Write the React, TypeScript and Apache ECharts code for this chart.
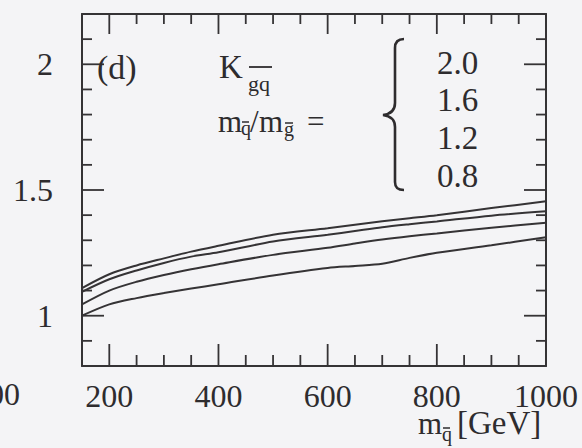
import React, { useEffect, useRef } from "react";
import * as echarts from "echarts";

// squark mass grid [GeV]
const massGeV = [150, 200, 250, 300, 350, 400, 500, 600, 650, 700, 750, 800, 900, 1000];

// K factor for each mass ratio m_q~/m_g~
const kRatio20 = [1.11, 1.165, 1.2, 1.228, 1.255, 1.278, 1.322, 1.348, 1.362, 1.376, 1.388, 1.4, 1.428, 1.455];
const kRatio16 = [1.095, 1.145, 1.18, 1.21, 1.235, 1.252, 1.295, 1.322, 1.337, 1.352, 1.364, 1.375, 1.398, 1.415];
const kRatio12 = [1.045, 1.1, 1.135, 1.162, 1.185, 1.205, 1.242, 1.27, 1.287, 1.303, 1.316, 1.327, 1.35, 1.37];
const kRatio08 = [1.0, 1.045, 1.07, 1.09, 1.108, 1.125, 1.16, 1.19, 1.198, 1.207, 1.23, 1.25, 1.28, 1.312];

const ratioLabels = ["2.0", "1.6", "1.2", "0.8"];

// tick marks: labelled (long) and unlabelled (short)
const xMajor = [200, 400, 600, 800, 1000];
const xMinor = [250, 300, 350, 450, 500, 550, 650, 700, 750, 850, 900, 950];
const yMajor = [1, 1.5, 2];
const yMinor = [0.9, 1.1, 1.2, 1.3, 1.4, 1.6, 1.7, 1.8, 1.9, 2.1];

const X_MIN = 150;
const X_MAX = 1000;
const Y_MIN = 0.8;
const Y_MAX = 2.2;

const INK = "#353335";
const TEXT = "#2e2c2e";
const FAMILY = '"Liberation Serif", "Times New Roman", serif';
const f = (px: number) => `${px}px ${FAMILY}`;

// curly brace grouping the ratio values
const braceD =
  "M404,39 C398,39 395,42 395,48 L395,103 C395,110 391,114 383,115 C391,116 395,120 395,127 L395,182 C395,188 398,190 404,190";

let braceRegistered = false;

function zip(xs: number[], ys: number[]) {
  return xs.map((x, i) => [x, ys[i]]);
}

const textEl = (text: string, x: number, y: number, size: number, align = "left") => ({
  type: "text",
  x,
  y,
  silent: true,
  z: 10,
  style: { text, font: f(size), fill: TEXT, verticalAlign: "middle", align },
});

const barEl = (x1: number, x2: number, y: number, w = 1.5) => ({
  type: "line",
  silent: true,
  z: 10,
  shape: { x1, y1: y, x2, y2: y },
  style: { stroke: TEXT, lineWidth: w },
});

export default function App() {
  const ref = useRef<HTMLDivElement>(null);

  useEffect(() => {
    if (!ref.current) return;
    if (!braceRegistered) {
      echarts.graphic.registerShape("brace", echarts.graphic.extendPath(braceD, {}) as any);
      braceRegistered = true;
    }
    const chart = echarts.init(ref.current, null, { renderer: "svg" });

    const axisLine = { show: true, onZero: false, lineStyle: { color: INK, width: 2 } };
    const seriesData = [kRatio20, kRatio16, kRatio12, kRatio08];

    const valueAxis = (min: number, max: number, position: string, label: any) => ({
      type: "value",
      min,
      max,
      position,
      axisLine,
      axisTick: { show: false },
      axisLabel: label,
      splitLine: { show: false },
    });

    chart.setOption({
      animation: false,
      backgroundColor: "#f4f4f6",
      grid: { left: 82, right: 36, top: 14, bottom: 82, containLabel: false },
      xAxis: [
        valueAxis(X_MIN, X_MAX, "bottom", {
          customValues: xMajor,
          formatter: (v: number) => String(v),
          margin: 14,
          color: TEXT,
          fontFamily: FAMILY,
          fontSize: 32,
        }),
        valueAxis(X_MIN, X_MAX, "top", { show: false }),
      ],
      yAxis: [
        valueAxis(Y_MIN, Y_MAX, "left", {
          customValues: yMajor,
          formatter: (v: number) => String(v),
          margin: 29,
          color: TEXT,
          fontFamily: FAMILY,
          fontSize: 32,
        }),
        valueAxis(Y_MIN, Y_MAX, "right", { show: false }),
      ],
      series: seriesData.map((d, i) => ({
        name: ratioLabels[i],
        type: "line",
        xAxisIndex: 0,
        yAxisIndex: 0,
        data: zip(massGeV, d),
        smooth: 0.3,
        showSymbol: false,
        lineStyle: { color: INK, width: 2 },
      })),
    });

    // inward tick marks on all four sides as thin filled bars, placed through the grid's scales
    const px = (x: number, y: number) => chart.convertToPixel({ gridIndex: 0 }, [x, y]) as number[];
    const TW = 1.8;
    const ticks: any[] = [];
    const addRect = (x: number, y: number, w: number, h: number) =>
      ticks.push({ type: "rect", silent: true, z: 10, shape: { x, y, width: w, height: h }, style: { fill: INK } });

    [...xMajor.filter((v) => v < X_MAX), ...xMinor].forEach((v) => {
      const major = xMajor.includes(v);
      const b = px(v, Y_MIN);
      const t = px(v, Y_MAX);
      const lb = major ? 22 : 11;
      const lt = major ? 20 : 10;
      addRect(b[0] - TW / 2, b[1] - lb, TW, lb);
      addRect(t[0] - TW / 2, t[1], TW, lt);
    });
    [...yMajor, ...yMinor].forEach((v) => {
      const major = yMajor.includes(v);
      const len = major ? 22 : 10;
      const l = px(X_MIN, v);
      const r = px(X_MAX, v);
      addRect(l[0], l[1] - TW / 2, len, TW);
      addRect(r[0] - len, r[1] - TW / 2, len, TW);
    });

    chart.setOption({
      graphic: [
        ...ticks,
        textEl("(d)", 97, 67, 34),
        // K with subscript g~ q-bar
        textEl("K", 219, 66.5, 33),
        textEl("gq", 248, 83, 22),
        barEl(249, 272, 67, 1.8),
        // m_q~ / m_g~ =
        textEl("m", 218, 121.5, 31),
        textEl("q", 241, 128, 20),
        barEl(242, 249, 122),
        textEl("/", 250, 121.5, 31),
        textEl("m", 259, 121.5, 31),
        textEl("g", 284, 129, 20),
        barEl(285, 293, 123),
        textEl("=", 307, 121.5, 31),
        // brace and ratio values
        { type: "brace", silent: true, z: 10, style: { stroke: TEXT, fill: "none", lineWidth: 2.6 } },
        ...ratioLabels.map((t, i) => textEl(t, 437, [62.5, 100, 137.5, 175.5][i], 33)),
        // axis title m_q~ [GeV]
        textEl("m", 418, 423, 31),
        textEl("q", 442, 434, 20),
        barEl(443, 450, 428),
        textEl("[GeV]", 457, 423, 33),
        // tail of a neighbouring panel's tick label
        textEl("00", 20, 394, 32, "right"),
      ],
    });

    return () => chart.dispose();
  }, []);

  return (
    <div
      ref={ref}
      style={{ position: "fixed", left: 0, top: 0, width: 582, height: 448 }}
    />
  );
}
